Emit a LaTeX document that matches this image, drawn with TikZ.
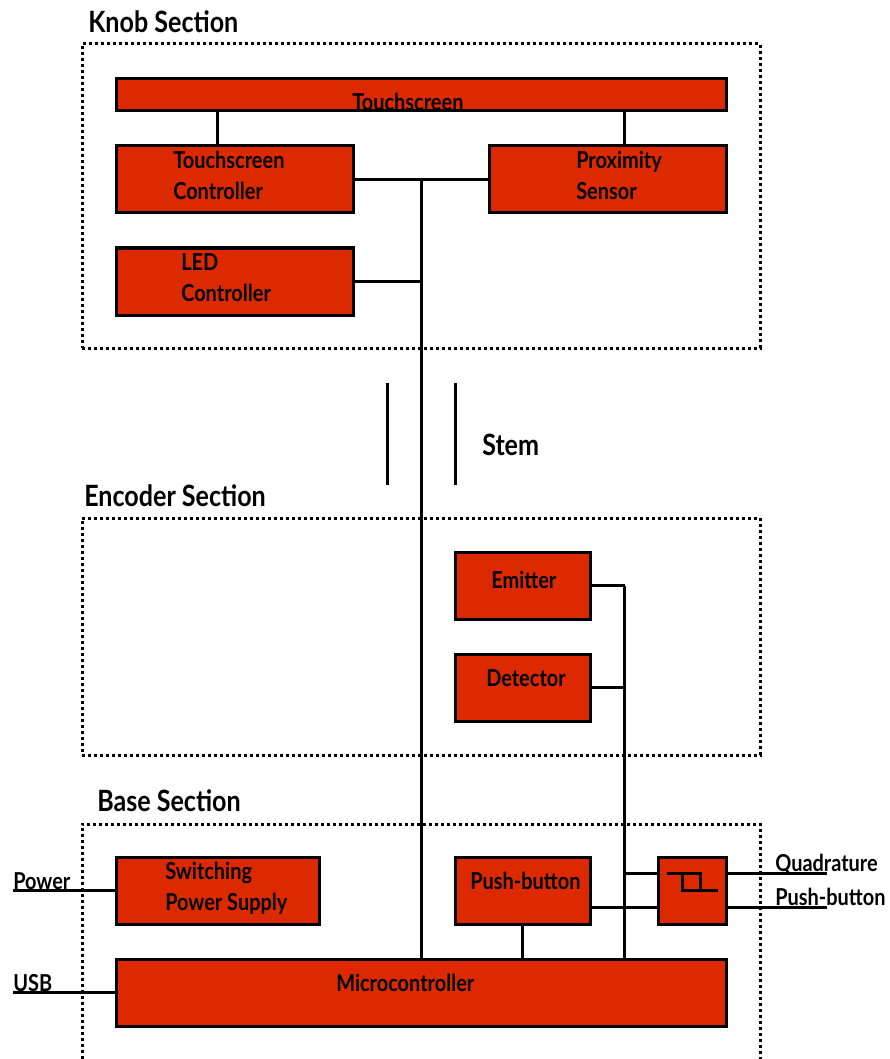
\documentclass[tikz,border=0pt]{standalone}
\usepackage{xcolor}
\usepackage{fontspec}
\setmainfont[FakeStretch=0.855]{Lato}
\usetikzlibrary{positioning, calc}
\definecolor{boxred}{HTML}{DD2900}
\tikzset{
    box/.style={
        rectangle, draw=black, fill=boxred, line width=2.25pt,
        minimum height=50.25pt, outer sep=0pt, inner sep=0pt
    },
    frame/.style={
        rectangle, draw=black, line width=2.25pt, outer sep=0pt,
        dash pattern=on 2.25pt off 2.25pt
    },
    wire/.style={draw=black, line width=2.25pt},
    % Text Styles
    boxtext/.style={inner sep=0pt, anchor=west, align=left, font=\bfseries\fontsize{17.5}{23.25}\selectfont},
    heading/.style={inner sep=0pt, anchor=west, font=\bfseries\fontsize{22}{24}\selectfont}
}
\begin{document}
\begin{tikzpicture}[x=0.75pt, y=-0.75pt, node distance=26.25pt]
        \useasboundingbox (0,0) rectangle (889,1059);

        % Section frames
        \node (knob) [frame, minimum width=508.5pt, minimum height=228pt] at (421,196) {};
        \node (encoder) [frame, minimum width=508.5pt, minimum height=177.75pt] at (421,636.5) {};
        \coordinate (basel) at (82,1059);
        \coordinate (baser) at (760.5,1059);
        \coordinate (baset) at (82,824);
        \draw [frame] (basel) |- (baset) -| (baser);
        \node (knobtitle) [heading] at (88,22) {Knob Section};
        \node (encodertitle) [heading] at (84,496) {Encoder Section};
        \node (basetitle) [heading] at (97,801) {Base Section};

        % Knob
        \node (touch) [box, minimum width=457.5pt, minimum height=24pt] at (421,95) {};
        \node (ctrl) [box, minimum width=177.75pt, below=of touch.south west, anchor=north west] {};
        \node (prox) [box, minimum width=177.75pt, below=of touch.south east, anchor=north east] {};
        \node (led) [box, minimum width=177.75pt, below=of ctrl.south west, anchor=north west] {};

        % Encoder
        \node (emitter) [box, minimum width=101.25pt] at (522.5,585.5) {};
        \node (detector) [box, minimum width=101.25pt, below=of emitter] {};

        % Base
        \node (supply) [box, minimum width=152.25pt] at (217.5,890.5) {};
        \node (push) [box, minimum width=101.25pt] at (522.5,890.5) {};
        \node (schmitt) [box, minimum width=51pt, right=51pt of push] {};
        \node (micro) [box, minimum width=457.5pt, below=of supply.south west, anchor=north west] {};

        % Box texts
        \node (touchtext) [boxtext] at (352,102) {Touchscreen};
        \node (ctrltext) [boxtext] at (173,175.5) {Touchscreen\\Controller};
        \node (proxtext) [boxtext] at (576,175.5) {Proximity\\Sensor};
        \node (ledtext) [boxtext] at (181,277.5) {LED\\Controller};
        \node (emittertext) [boxtext] at (491,580) {Emitter};
        \node (detectortext) [boxtext] at (486,678) {Detector};
        \node (supplytext) [boxtext] at (165,888) {Switching\\Power Supply};
        \node (pushtext) [boxtext] at (470,881) {Push-button};
        \node (microtext) [boxtext] at (336,983) {Microcontroller};

        % Outer texts
        \node (stemtext) [heading] at (482,445) {Stem};
        \node (powertext) [boxtext] at (13,881) {Power};
        \node (usbtext) [boxtext] at (13,983) {USB};
        \node (quadtext) [boxtext] at (775,864) {Quadrature};
        \node (pushout) [boxtext] at (775,897) {Push-button};

        % Free wire ends
        \coordinate (bus) at (421,179.5);
        \coordinate (sense) at (624.5,585.5);
        \coordinate (stemat) at (387.5,383);
        \coordinate (stemab) at (387.5,484.5);
        \coordinate (stembt) at (455,383);
        \coordinate (stembb) at (455,484.5);
        \coordinate [left=77.25pt of supply.west] (powerend);
        \coordinate [left=77.25pt of micro.west] (usbend);
        \coordinate (quadend) at (827,873.5);
        \coordinate (pushend) at (827,907.5);

        \draw [wire] ([xshift=-12.75pt]ctrl.north) -- ([xshift=-12.75pt]ctrl.north |- touch.south);
        \draw [wire] ([xshift=12.75pt]prox.north) -- ([xshift=12.75pt]prox.north |- touch.south);
        \draw [wire] (ctrl.east) -- (prox.west);
        \draw [wire] (led.east) -- (led.east -| bus);
        \draw [wire] (bus) -- (bus |- micro.north);
        \draw [wire] (stemat) -- (stemab);
        \draw [wire] (stembt) -- (stembb);
        \draw [wire] (emitter.east) -- (sense);
        \draw [wire] (detector.east) -- (detector.east -| sense);
        \draw [wire] (sense) -- (sense |- micro.north);
        \draw [wire] (push.south) -- (push.south |- micro.north);
        \draw [wire] ([yshift=12.75pt]schmitt.west) -- ([yshift=12.75pt]schmitt.west -| sense);
        \draw [wire] ([yshift=-12.75pt]push.east) -- ([yshift=-12.75pt]schmitt.west);
        \draw [wire] ([yshift=12.75pt]schmitt.east) -- (quadend);
        \draw [wire] ([yshift=-12.75pt]schmitt.east) -- (pushend);
        \draw [wire] (powerend) -- (supply.west);
        \draw [wire] (usbend) -- (micro.west);

        % Hysteresis symbol
        \draw [wire] ($(schmitt.center)+(-25.5,-17)$) -| ($(schmitt.center)+(8.5,0)$);
        \draw [wire] ($(schmitt.center)+(-9.5,-17)$) |- ($(schmitt.center)+(25.5,0)$);
    \end{tikzpicture}
\end{document}
